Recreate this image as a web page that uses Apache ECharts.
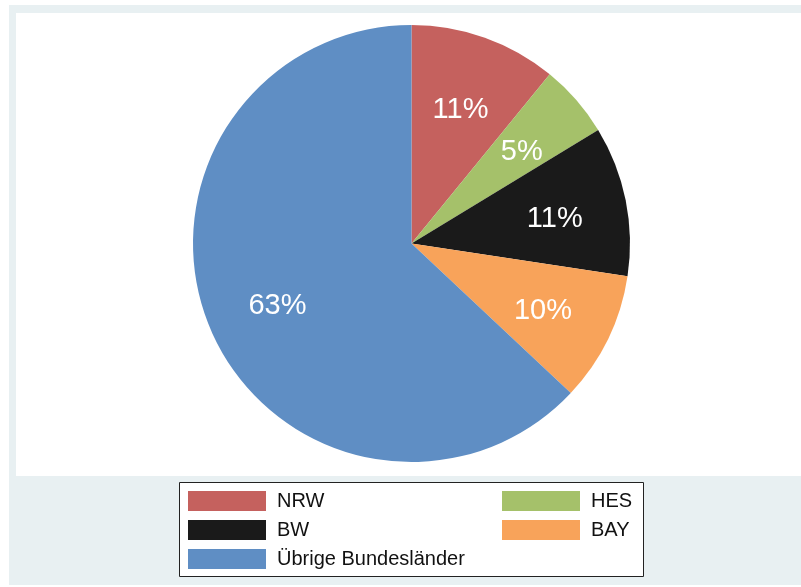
<!DOCTYPE html>
<html>
<head>
<meta charset="utf-8">
<title>Anteile nach Bundesland</title>
<script src="https://cdn.jsdelivr.net/npm/echarts@6/dist/echarts.min.js"></script>
<style>
  html, body { margin: 0; padding: 0; background: #ffffff; }
  #chart { width: 801px; height: 587px; }
</style>
</head>
<body>
<div id="chart"></div>
<script>
// Regions, in slice order (clockwise from 12 o'clock)
const regions = ['NRW', 'HES', 'BW', 'BAY', 'Übrige Bundesländer'];
// Share of each region, in percent
const shares = [10.9, 5.4, 11.1, 9.6, 63.0];
// Slice colours
const colors = ['#c5615e', '#a5c16a', '#1a1a1a', '#f8a35a', '#5f8ec4'];

// Legend columns
const legendLeft = ['NRW', 'BW', 'Übrige Bundesländer'];
const legendRight = ['HES', 'BAY'];

const pieData = regions.map((name, i) => ({
  name: name,
  value: shares[i],
  itemStyle: { color: colors[i] }
}));

const cx = 411.5, cy = 243.5, R = 218.5;

const legendBase = {
  orient: 'vertical',
  top: 486,
  itemWidth: 78,
  itemHeight: 20,
  itemGap: 9,
  icon: 'rect',
  selectedMode: false,
  textStyle: {
    fontFamily: 'Liberation Sans, Arial, sans-serif',
    fontSize: 20,
    color: '#111111',
    lineHeight: 20,
    padding: [0, 0, 0, 6]
  }
};

const chart = echarts.init(document.getElementById('chart'), null, { renderer: 'canvas' });
chart.setOption({
  backgroundColor: '#ffffff',
  animation: false,
  color: colors,
  graphic: [
    { type: 'rect', z: -10, shape: { x: 9, y: 5, width: 792, height: 580 }, style: { fill: '#e8f0f2' } },
    { type: 'rect', z: -9, shape: { x: 16, y: 13, width: 785, height: 463 }, style: { fill: '#ffffff' } },
    { type: 'rect', z: -8, shape: { x: 179.5, y: 482.5, width: 464, height: 94 }, style: { fill: '#ffffff', stroke: '#222222', lineWidth: 1 } }
  ],
  legend: [
    Object.assign({}, legendBase, { left: 183, data: legendLeft }),
    Object.assign({}, legendBase, { left: 497, data: legendRight })
  ],
  series: [
    {
      type: 'pie',
      center: [cx, cy],
      radius: [0, R],
      startAngle: 90,
      clockwise: true,
      silent: true,
      label: { show: false },
      labelLine: { show: false },
      itemStyle: { borderWidth: 0 },
      data: pieData
    },
    {
      // Transparent ring that carries the percentage labels at ~2/3 of the radius
      type: 'pie',
      center: [cx, cy],
      radius: [R * 0.31, R],
      startAngle: 90,
      clockwise: true,
      silent: true,
      percentPrecision: 0,
      itemStyle: { color: 'rgba(0,0,0,0)', borderWidth: 0 },
      label: {
        show: true,
        position: 'inside',
        formatter: '{d}%',
        color: '#ffffff',
        fontFamily: 'Liberation Sans, Arial, sans-serif',
        fontSize: 29,
        offset: [0, 4]
      },
      labelLine: { show: false },
      data: regions.map((name, i) => ({ name: name, value: shares[i] }))
    }
  ]
});
</script>
</body>
</html>
